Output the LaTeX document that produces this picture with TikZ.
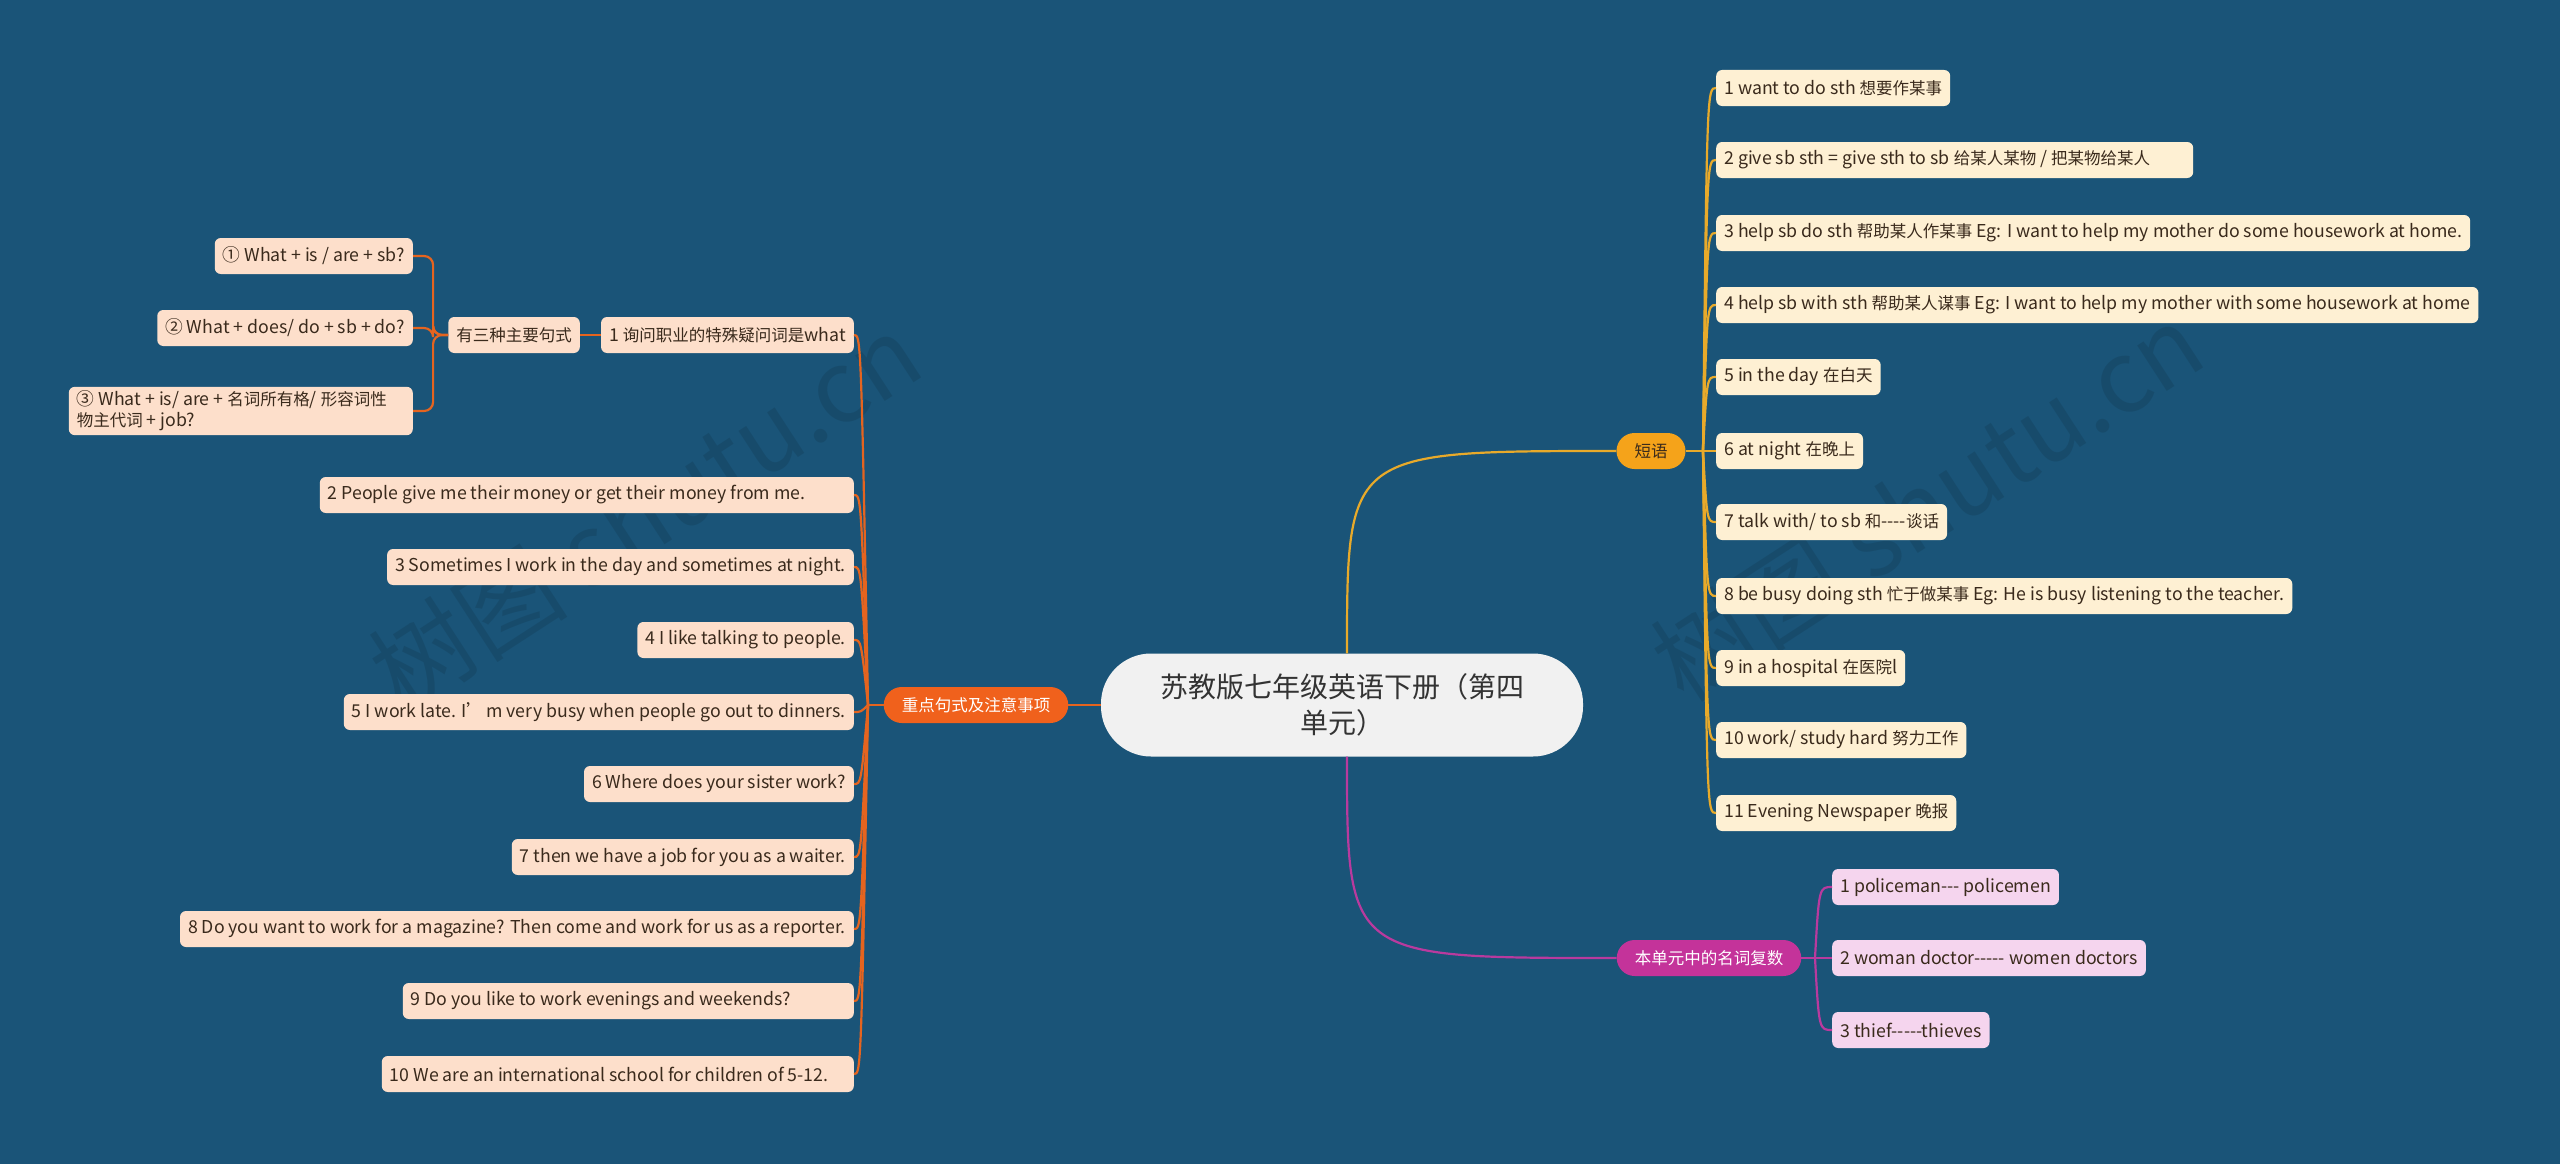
\documentclass[tikz,border=0pt]{standalone}
\usepackage{fontspec}
\setmainfont{Noto Sans CJK SC}[Ligatures=TeXOff]
\newfontfamily\en{Noto Sans CJK SC}[Scale=1.075,Ligatures=TeXOff]
\newfontfamily\zhfont{Noto Sans CJK SC}[Ligatures=TeXOff]
\newcommand{\zh}[1]{{\zhfont #1}}
\usepackage{xcolor}
\usetikzlibrary{calc,positioning}
\definecolor{bg}{HTML}{1A5478}
\definecolor{ink}{HTML}{3A2A1C}
\definecolor{orn}{HTML}{F0611C}
\definecolor{ornline}{HTML}{E5641F}
\definecolor{peach}{HTML}{FDDFCB}
\definecolor{ylw}{HTML}{F5A31A}
\definecolor{ylwline}{HTML}{E8AA2A}
\definecolor{cream}{HTML}{FEF0D3}
\definecolor{mag}{HTML}{C4339A}
\definecolor{magline}{HTML}{B93A9E}
\definecolor{pink}{HTML}{F5D5EE}
\definecolor{rootfill}{HTML}{F1F1F1}

\begin{document}
\begin{tikzpicture}[x=1pt,y=-1pt,font=\fontsize{16.5pt}{21pt}\selectfont]
\tikzset{root/.style={fill=rootfill,rounded corners=50pt,minimum width=482pt,minimum height=103pt,align=center,text=black!80,font=\fontsize{28pt}{36pt}\selectfont}, pill/.style={rounded corners=18pt,minimum height=36pt,inner xsep=18pt,inner ysep=0pt}, leaf/.style={rounded corners=6pt,minimum height=36pt,inner xsep=8pt,inner ysep=4pt,text=ink,font=\en\fontsize{16.5pt}{21pt}\selectfont}, tw/.style={text width=#1,align=flush left}, lleaf/.style={leaf,fill=peach}, yleaf/.style={leaf,fill=cream}, pleaf/.style={leaf,fill=pink}, lline/.style={draw=ornline,line width=2.2pt}, yline/.style={draw=ylwline,line width=2.2pt}, pline/.style={draw=magline,line width=2.2pt}, wm/.style={text=black,opacity=.1,font=\fontsize{100pt}{100pt}\selectfont}}
\fill[bg] (0,0) rectangle (2560,1164);
\useasboundingbox (0,0) rectangle (2560,1164);
% watermarks
\node[wm,rotate=33] (wm1) at (645,512) {树图 shutu.cn};
\node[wm,rotate=33] (wm2) at (1927,502) {树图 shutu.cn};
% centre and main branches
\node[root] (root) at (1342,705) {苏教版七年级英语下册（第四\\单元）};
\node[pill,fill=orn,text=white] (zd) at (976,705) {重点句式及注意事项};
\node[pill,fill=ylw,text=ink] (dy) at (1651,451) {短语};
\node[pill,fill=mag,text=white] (fs) at (1709,958) {本单元中的名词复数};
% left: sentences
\node[lleaf,anchor=east] (l1) at (854,335) {1 \zh{询问职业的特殊疑问词是}what};
\node[lleaf,anchor=east,tw=518pt] (l2) at (854,495) {2 People give me their money or get their money from me.};
\node[lleaf,anchor=east] (l3) at (854,567) {3 Sometimes I work in the day and sometimes at night.};
\node[lleaf,anchor=east] (l4) at (854,640) {4 I like talking to people.};
\node[lleaf,anchor=east] (l5) at (854,712) {5 I work late. I’\hspace{0.1em}m very busy when people go out to dinners.};
\node[lleaf,anchor=east] (l6) at (854,784) {6 Where does your sister work?};
\node[lleaf,anchor=east] (l7) at (854,857) {7 then we have a job for you as a waiter.};
\node[lleaf,anchor=east] (l8) at (854,929) {8 Do you want to work for a magazine? Then come and work for us as a reporter.};
\node[lleaf,anchor=east,tw=435pt] (l9) at (854,1001) {9 Do you like to work evenings and weekends?};
\node[lleaf,anchor=east,tw=456pt] (l10) at (854,1074) {10 We are an international school for children of 5-12.};
\node[lleaf,anchor=east] (s3) at (580,335) {\zh{有三种主要句式}};
\node[lleaf,anchor=east] (w1) at (413,256) {① What + is / are + sb?};
\node[lleaf,anchor=east] (w2) at (413,328) {② What + does/ do + sb + do?};
\node[lleaf,anchor=east,tw=328pt] (w3) at (413,411) {③ What + is/ are + \zh{名词所有格}/ \zh{形容词性}\\\zh{物主代词} + job?};
% right: phrases
\node[yleaf,anchor=west] (p1) at (1716,88) {1 want to do sth \zh{想要作某事}};
\node[yleaf,anchor=west,tw=461pt] (p2) at (1716,160) {2 give sb sth = give sth to sb \zh{给某人某物} / \zh{把某物给某人}};
\node[yleaf,anchor=west] (p3) at (1716,233) {3 help sb do sth \zh{帮助某人作某事} Eg: I want to help my mother do some housework at home.};
\node[yleaf,anchor=west] (p4) at (1716,305) {4 help sb with sth \zh{帮助某人谋事} Eg: I want to help my mother with some housework at home};
\node[yleaf,anchor=west] (p5) at (1716,377) {5 in the day \zh{在白天}};
\node[yleaf,anchor=west] (p6) at (1716,451) {6 at night \zh{在晚上}};
\node[yleaf,anchor=west] (p7) at (1716,522) {7 talk with/ to sb \zh{和}----\zh{谈话}};
\node[yleaf,anchor=west] (p8) at (1716,596) {8 be busy doing sth \zh{忙于做某事} Eg: He is busy listening to the teacher.};
\node[yleaf,anchor=west] (p9) at (1716,668) {9 in a hospital \zh{在医院}l};
\node[yleaf,anchor=west] (p10) at (1716,740) {10 work/ study hard \zh{努力工作}};
\node[yleaf,anchor=west] (p11) at (1716,813) {11 Evening Newspaper \zh{晚报}};
% right: plurals
\node[pleaf,anchor=west] (n1) at (1832,887) {1 policeman--- policemen};
\node[pleaf,anchor=west] (n2) at (1832,958) {2 woman doctor----- women doctors};
\node[pleaf,anchor=west] (n3) at (1832,1030) {3 thief-----thieves};
% connectors
\coordinate (rt) at ([xshift=5pt]root.north);
\coordinate (rb) at ([xshift=5pt]root.south);
\draw[lline] (root.west)--(zd.east);
\draw[yline] (rt) .. controls (rt |- dy.west) .. (dy.west);
\draw[pline] (rb) .. controls (rb |- fs.west) .. (fs.west);
\coordinate (lt) at (868,705);
\draw[lline] (zd.west)--(lt);
\foreach \i in {1,...,10} \draw[lline] (lt) .. controls ($(lt |- l\i.east)+(-7,0)$) .. (l\i.east);
\draw[lline] (l1.west)--(s3.east);
\foreach \n in {w1,w2,w3} \draw[lline,rounded corners=9pt] (s3.west) -- ++(-15,0) |- (\n.east);
\coordinate (yt) at (1703,451);
\draw[yline] (dy.east)--(yt);
\foreach \i in {1,...,11} \draw[yline] (yt) .. controls ($(yt |- p\i.west)+(4,0)$) .. (p\i.west);
\coordinate (pt) at (1815,958);
\draw[pline] (fs.east)--(pt);
\foreach \i in {1,2,3} \draw[pline] (pt) .. controls ($(pt |- n\i.west)+(4,0)$) .. (n\i.west);
\end{tikzpicture}
\end{document}
